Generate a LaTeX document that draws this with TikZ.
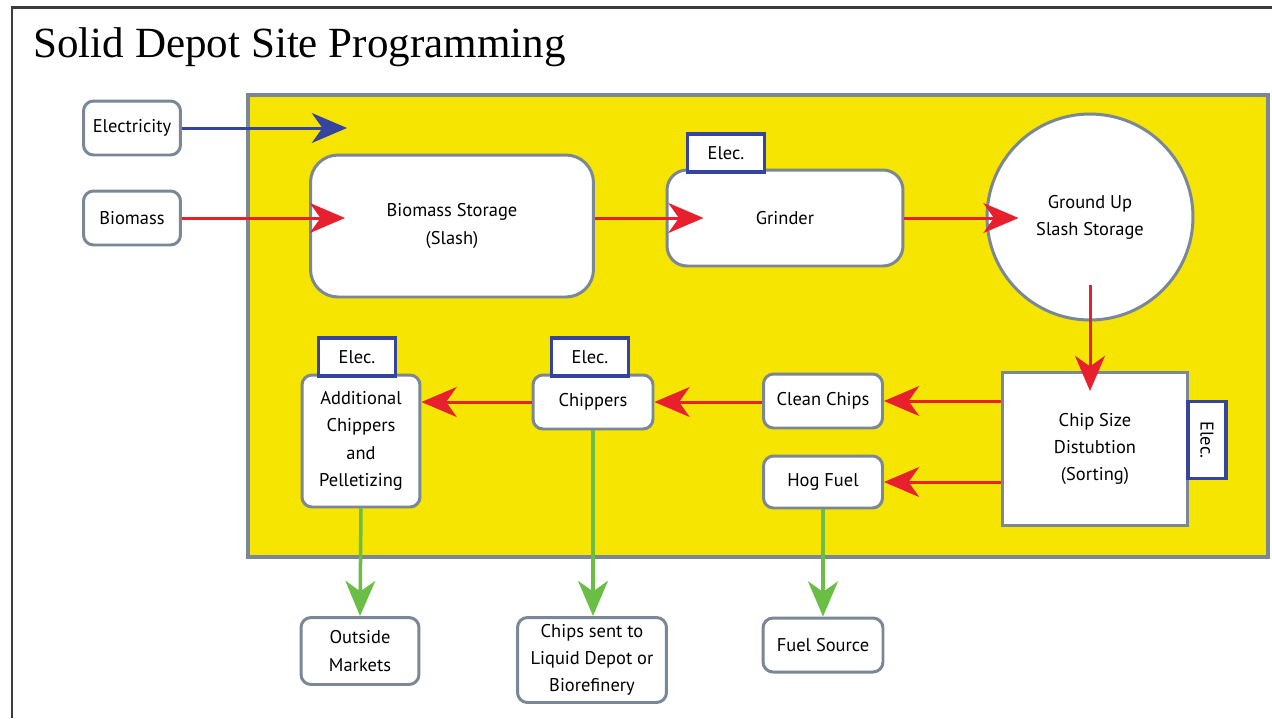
\documentclass[tikz,border=0pt]{standalone}
\usepackage{fontspec}
\usepackage{tikz}
\usetikzlibrary{arrows.meta}
\setsansfont{PT Sans}
\newfontfamily\titlefont{Liberation Serif}
\definecolor{boxgray}{RGB}{122,135,150}
\definecolor{framegray}{RGB}{60,60,60}
\definecolor{padyellow}{RGB}{245,229,0}
\definecolor{elecblue}{RGB}{52,68,160}
\definecolor{flowred}{RGB}{232,32,46}
\definecolor{flowgreen}{RGB}{106,190,69}

\begin{document}
\begin{tikzpicture}[
     x = 0.02cm, y = -0.02cm,
     every node/.style = {
     	draw = boxgray, line width = 1.7pt, fill = white, align = center,
     	inner sep = 2pt, font = \sffamily\fontsize{10.5}{15.5}\selectfont},
     box/.style = {rectangle, rounded corners = 0.2cm},
     elecbox/.style = {rectangle, draw = elecblue, line width = 2pt,
     	minimum width = 1.54cm, minimum height = 0.76cm},
     flow/.style = {line width = 1.7pt,
     	-{Stealth[length = 20pt, width = 17pt, inset = 6pt]}}
     ]

       \useasboundingbox (0,0) rectangle (1272,718);
       \draw[framegray, line width = 1.7pt] (12,718) -- (12,7) -- (1272,7);
       \node[draw = none, fill = none, anchor = base west, inner sep = 0pt,
         font = \titlefont\fontsize{24.5}{28}\selectfont] (title) at (32,57)
         {Solid Depot Site Programming};
       \draw[boxgray, fill = padyellow, line width = 2.2pt] (248,95) rectangle (1268,557);

       \node[box, minimum width = 1.94cm, minimum height = 1.08cm] (elec) at (132,128) {Electricity}; % 0
       \node[box, minimum width = 1.94cm, minimum height = 1.08cm] (bio) at (132,218) {Biomass}; % 1
       \node[box, rounded corners = 0.55cm, minimum width = 5.66cm, minimum height = 2.84cm] (store) at (452,226) {Biomass Storage\\(Slash)}; % 2
       \node[box, rounded corners = 0.4cm, minimum width = 4.72cm, minimum height = 1.92cm] (grind) at (785,218) {Grinder}; % 3
       \node[circle, minimum size = 4.12cm] (ground) at (1090,217) {Ground Up\\Slash Storage}; % 4
       \node[rectangle, minimum width = 3.72cm, minimum height = 3.06cm] (sort) at (1095,449) {Chip Size\\Distubtion\\(Sorting)}; % 5
       \node[box, minimum width = 2.38cm, minimum height = 1.08cm] (clean) at (823,401) {Clean Chips}; % 6
       \node[box, minimum width = 2.38cm, minimum height = 1.04cm] (hog) at (823,482) {Hog Fuel}; % 7
       \node[box, minimum width = 2.4cm, minimum height = 1.08cm] (chip) at (593,402) {Chippers}; % 8
       \node[box, minimum width = 2.36cm, minimum height = 2.64cm] (addl) at (361,441) {Additional\\Chippers\\and\\Pelletizing}; % 9
       \node[box, minimum width = 2.36cm, minimum height = 1.34cm] (mkt) at (360,651) {Outside\\Markets}; % 10
       \node[box, minimum width = 2.98cm, minimum height = 1.7cm] (sent) at (592,660) {Chips sent to\\Liquid Depot or\\Biorefinery}; % 11
       \node[box, minimum width = 2.4cm, minimum height = 1.08cm] (fuel) at (823,645) {Fuel Source}; % 12

       \node[elecbox] (egrind) at (726,153) {Elec.};
       \node[elecbox] (echip) at (590,357) {Elec.};
       \node[elecbox] (eaddl) at (357,357) {Elec.};
       \node[elecbox, rotate = -90] (esort) at (1207,440) {Elec.};

       \coordinate (feed) at (347,128);
       \draw[flow, elecblue] (elec) -- (feed);
       \begin{scope}[every path/.style = {flow, flowred}]
       \draw (bio) -- ([xshift = 0.72cm]store.west |- bio);
       \draw (store.east |- grind) -- ([xshift = 0.76cm]grind.west);
       \draw (grind.east) -- ([xshift = 0.66cm]ground.west |- grind);
       \draw ([yshift = 0.72cm]ground.south) -- ([yshift = -0.4cm]ground.south |- sort.north);
       \draw (sort.west |- clean) -- (clean.east);
       \draw (sort.west |- hog) -- (hog.east);
       \draw (clean.west |- chip) -- (chip.east);
       \draw (chip.west) -- (addl.east |- chip);
       \end{scope}
       \begin{scope}[every path/.style = {flow, flowgreen, line width = 2pt}]
       \draw (addl.south) -- (mkt.north);
       \draw (chip.south) -- (sent.north -| chip);
       \draw (hog.south) -- (fuel.north -| hog);
       \end{scope}

      \end{tikzpicture}
\end{document}
